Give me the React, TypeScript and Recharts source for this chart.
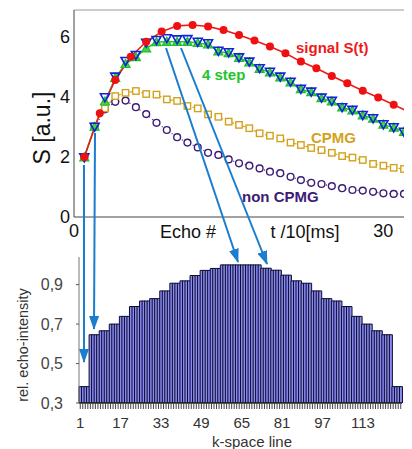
import { LineChart, Line, BarChart, Bar, XAxis, YAxis } from 'recharts';

// echo index (x axis of the upper plot)
const echoX = [1, 2, 3, 4, 5, 6, 7, 8, 9, 10, 11, 12, 13, 14, 15, 16, 17, 18, 19, 20, 21, 22, 23, 24, 25, 26, 27, 28, 29, 30, 31, 32];
// signal S(t) is sampled at finer time steps
const signalX = [1, 2.5, 4, 5.5, 7, 8.5, 10, 11.5, 13, 14.5, 16, 17.5, 19, 20.5, 22, 23.5, 25, 26.5, 28, 29.5, 31, 32.5];
const signalY = [2.0, 3.46, 4.57, 5.34, 5.84, 6.18, 6.37, 6.4, 6.35, 6.23, 6.07, 5.88, 5.68, 5.46, 5.18, 4.96, 4.7, 4.46, 4.21, 3.98, 3.74, 3.5];
const stepUpY = [1.99, 3.01, 3.85, 4.64, 5.1, 5.33, 5.62, 5.83, 5.84, 5.84, 5.84, 5.8, 5.75, 5.52, 5.46, 5.3, 5.15, 4.94, 4.82, 4.65, 4.49, 4.26, 4.16, 3.96, 3.85, 3.65, 3.55, 3.39, 3.28, 3.08, 2.98, 2.84];
const stepDownY = [1.99, 3.01, 3.99, 4.68, 5.2, 5.4, 5.81, 5.9, 5.96, 5.92, 5.93, 5.84, 5.79, 5.54, 5.49, 5.32, 5.18, 4.96, 4.84, 4.68, 4.51, 4.27, 4.18, 3.98, 3.87, 3.66, 3.57, 3.4, 3.29, 3.09, 2.99, 2.84];
const cpmgY = [2.0, 3.03, 3.62, 4.03, 4.14, 4.2, 4.1, 4.08, 3.92, 3.87, 3.7, 3.62, 3.42, 3.34, 3.18, 3.07, 2.96, 2.79, 2.71, 2.62, 2.48, 2.4, 2.3, 2.23, 2.14, 2.03, 1.98, 1.9, 1.77, 1.71, 1.64, 1.6];
const nonCpmgY = [2.0, 3.0, 3.59, 3.84, 3.88, 3.66, 3.43, 3.14, 2.9, 2.66, 2.48, 2.32, 2.14, 2.07, 1.92, 1.79, 1.71, 1.62, 1.51, 1.46, 1.34, 1.23, 1.14, 1.1, 1.03, 0.96, 0.9, 0.88, 0.84, 0.79, 0.77, 0.77];

const topXTicks = [0, 10, 20, 30];
const topYTicks = [0, 2, 4, 6];

// relative echo intensity, one value per group of 4 k-space lines
const stepIntensity = [0.383, 0.646, 0.666, 0.7, 0.739, 0.789, 0.817, 0.829, 0.868, 0.907, 0.919, 0.946, 0.972, 0.982, 1.0, 1.0, 1.0, 1.0, 0.983, 0.973, 0.948, 0.919, 0.907, 0.868, 0.829, 0.817, 0.789, 0.739, 0.7, 0.666, 0.646, 0.383];
const linesPerStep = 4;
const kLabels = [1, 17, 33, 49, 65, 81, 97, 113];
const intensityTicks = [0.3, 0.5, 0.7, 0.9];

const toPoints = (xs: number[], ys: number[]) => xs.map((x, i) => ({ x, y: ys[i] }));
const signalData = toPoints(signalX, signalY);
const stepUpData = toPoints(echoX, stepUpY);
const stepDownData = toPoints(echoX, stepDownY);
const cpmgData = toPoints(echoX, cpmgY);
const nonCpmgData = toPoints(echoX, nonCpmgY);

const kSpaceData = stepIntensity.flatMap((v, s) =>
  Array.from({ length: linesPerStep }, (_, j) => ({ line: s * linesPerStep + j + 1, v }))
);

const FONT = '"Liberation Sans", Arial, sans-serif';

const RedDot = (p: any) =>
  p.payload.x > 32 ? <g key={p.index} /> : <circle key={p.index} cx={p.cx} cy={p.cy} r={4} fill="#ee1111" />;

const UpTri = (p: any) => (
  <polygon
    key={p.index}
    points={`${p.cx - 4.5},${p.cy + 3.5} ${p.cx + 4.5},${p.cy + 3.5} ${p.cx},${p.cy - 4.5}`}
    fill="#44d444"
    stroke="#1fbf2a"
    strokeWidth={1.2}
  />
);

const DownTri = (p: any) => (
  <polygon
    key={p.index}
    points={`${p.cx - 4.5},${p.cy - 3.5} ${p.cx + 4.5},${p.cy - 3.5} ${p.cx},${p.cy + 4.5}`}
    fill="none"
    stroke="#1024d8"
    strokeWidth={1.6}
  />
);

const Square = (p: any) => (
  <rect key={p.index} x={p.cx - 3.2} y={p.cy - 3.2} width={6.4} height={6.4} fill="#fff" stroke="#d3a21c" strokeWidth={1.4} />
);

const Ring = (p: any) => (
  <circle key={p.index} cx={p.cx} cy={p.cy} r={3.4} fill="#fff" stroke="#3c1c74" strokeWidth={1.4} />
);

export default function App() {
  return (
    <div style={{ position: 'absolute', left: 0, top: 0, width: 412, height: 449, background: '#fff', fontFamily: FONT }}>
      {/* upper plot: echo amplitudes */}
      <div style={{ position: 'absolute', left: 0, top: 0 }}>
        <LineChart width={412} height={240} margin={{ top: 10, right: 8, bottom: 0, left: 0 }}>
          <XAxis
            dataKey="x"
            type="number"
            domain={[0, 32]}
            allowDataOverflow
            ticks={topXTicks}
            tickFormatter={(v) => (v === 0 || v === 30 ? String(v) : '')}
            tickLine={false}
            tickSize={0}
            tickMargin={7}
            height={23}
            axisLine={{ stroke: '#444' }}
            tick={{ fontSize: 18, fill: '#111', fontFamily: FONT }}
          />
          <XAxis xAxisId="b2" type="number" domain={[0, 32]} ticks={topXTicks} mirror tickSize={4} tickFormatter={() => ''} axisLine={false} tickLine={{ stroke: '#555' }} />
          <XAxis xAxisId="top" orientation="top" type="number" domain={[0, 32]} ticks={topXTicks} mirror tickSize={4} tickFormatter={() => ''} axisLine={{ stroke: '#999' }} tickLine={{ stroke: '#777' }} />
          <YAxis
            type="number"
            domain={[0, 6.9]}
            allowDataOverflow
            ticks={topYTicks}
            width={74}
            tickLine={false}
            tickSize={0}
            tickMargin={4}
            axisLine={{ stroke: '#444' }}
            tick={{ fontSize: 18, fill: '#111', fontFamily: FONT }}
          />
          <YAxis yAxisId="l2" type="number" domain={[0, 6.9]} ticks={topYTicks} mirror tickSize={4} tickFormatter={() => ''} axisLine={false} tickLine={{ stroke: '#555' }} />
          <YAxis yAxisId="right" orientation="right" type="number" domain={[0, 6.9]} ticks={topYTicks} mirror tickSize={4} width={0} tickFormatter={() => ''} axisLine={{ stroke: '#999' }} tickLine={{ stroke: '#777' }} />

          <Line data={nonCpmgData} dataKey="y" stroke="#3c1c74" strokeWidth={1.2} strokeDasharray="1 3" dot={Ring} isAnimationActive={false} />
          <Line data={cpmgData} dataKey="y" stroke="#d3a21c" strokeWidth={1.2} strokeDasharray="3 3" dot={Square} isAnimationActive={false} />
          <Line data={stepUpData} dataKey="y" stroke="#22c52a" strokeWidth={1.5} dot={UpTri} isAnimationActive={false} />
          <Line data={stepDownData} dataKey="y" stroke="none" dot={DownTri} isAnimationActive={false} />
          <Line data={signalData} dataKey="y" stroke="#ee1a1a" strokeWidth={1.6} dot={RedDot} isAnimationActive={false} />
        </LineChart>
      </div>

      {/* lower plot: k-space ordering */}
      <div style={{ position: 'absolute', left: 0, top: 240 }}>
        <BarChart width={412} height={209} data={kSpaceData} margin={{ top: 17, right: 10, bottom: 0, left: 0 }} barCategoryGap={0} barGap={0}>
          <XAxis
            dataKey="line"
            interval={0}
            height={46}
            tickSize={6}
            tickMargin={8}
            tickLine={{ stroke: '#444' }}
            axisLine={{ stroke: '#222', strokeWidth: 1.5 }}
            tickFormatter={(v) => (kLabels.includes(v) ? String(v) : '')}
            tick={{ fontSize: 15, fill: '#333', fontFamily: FONT }}
          />
          <YAxis
            type="number"
            domain={[0.3, 1.04]}
            allowDataOverflow
            ticks={intensityTicks}
            width={79}
            tickSize={3}
            tickMargin={13}
            tickLine={{ stroke: '#555' }}
            axisLine={{ stroke: '#777' }}
            tickFormatter={(v) => v.toFixed(1).replace('.', ',')}
            tick={{ fontSize: 16, fill: '#444', fontFamily: FONT }}
          />
          <Bar dataKey="v" fill="#8a8af0" stroke="#0c0c30" strokeWidth={1} isAnimationActive={false} />
        </BarChart>
      </div>

      {/* annotations */}
      <svg width={412} height={449} style={{ position: 'absolute', left: 0, top: 0, pointerEvents: 'none', fontFamily: FONT }}>
        <defs>
          <marker id="ah" viewBox="0 0 14 10" refX={13} refY={5} markerWidth={14} markerHeight={10} markerUnits="userSpaceOnUse" orient="auto">
            <path d="M0,0 L14,5 L0,10 z" fill="#1a7dcf" />
          </marker>
        </defs>
        <g stroke="#1a7dcf" strokeWidth={2} markerEnd="url(#ah)">
          <line x1={84} y1={165} x2={84} y2={362} />
          <line x1={95} y1={133} x2={94} y2={329} />
          <line x1={166} y1={48} x2={238} y2={262} />
          <line x1={181} y1={48} x2={267} y2={264} />
        </g>

        <text x={296} y={53} fontSize={15} fontWeight="bold" fill="#ee1a1a">signal S(t)</text>
        <text x={202} y={80} fontSize={15} fontWeight="bold" fill="#22c52a">4 step</text>
        <text x={311} y={143} fontSize={15} fontWeight="bold" fill="#d3a21c">CPMG</text>
        <text x={242} y={202} fontSize={15} fontWeight="bold" fill="#3c1c74">non CPMG</text>

        <text x={188} y={238} fontSize={18} fill="#111" textAnchor="middle">Echo #</text>
        <text x={305} y={238} fontSize={18} fill="#111" textAnchor="middle">t /10[ms]</text>
        <text transform="translate(50,128) rotate(-90)" fontSize={23} fill="#111" textAnchor="middle">S [a.u.]</text>

        <text transform="translate(28,345) rotate(-90)" fontSize={14.5} fill="#333" textAnchor="middle">rel. echo-intensity</text>
        <text x={252} y={447} fontSize={15} fill="#333" textAnchor="middle">k-space line</text>
      </svg>
    </div>
  );
}
